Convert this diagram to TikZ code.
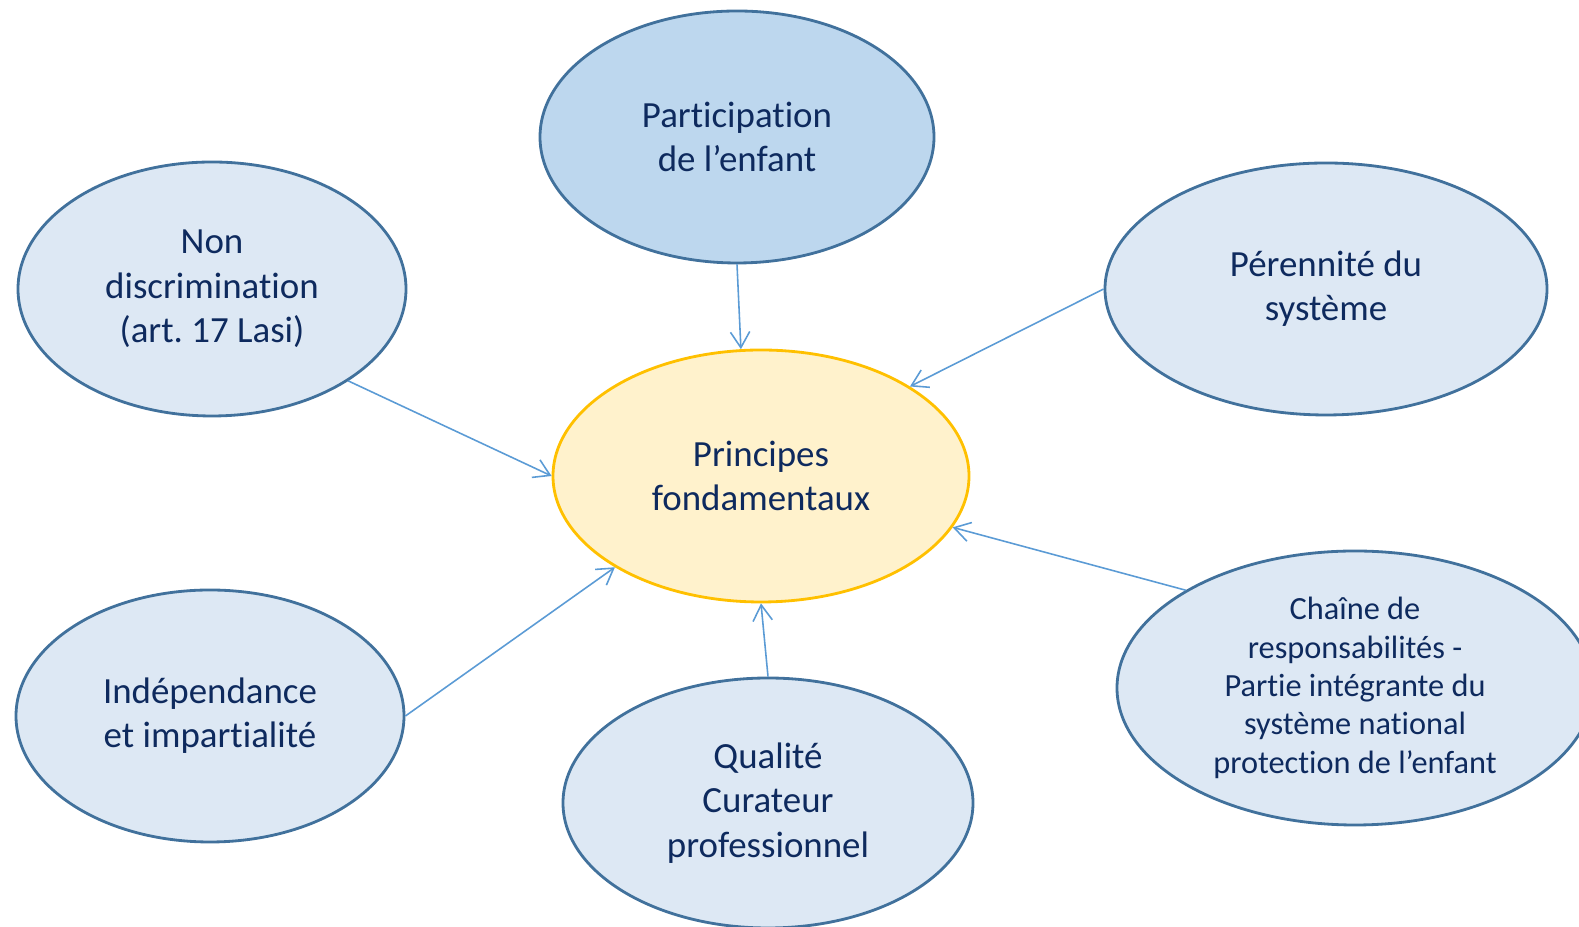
\documentclass[tikz,border=0pt]{standalone}
\usepackage{fontspec}
\setmainfont{Carlito}[Ligatures=NoCommon]
\usetikzlibrary{shapes.geometric,arrows.meta}
\definecolor{navytext}{HTML}{0E2A5E}
\definecolor{paleblue}{HTML}{DDE8F4}
\definecolor{midblue}{HTML}{BDD7EE}
\definecolor{edgeblue}{HTML}{41719C}
\definecolor{arrowblue}{HTML}{5B9BD5}
\definecolor{paleyellow}{HTML}{FFF2CC}
\definecolor{gold}{HTML}{FFC000}
\frenchspacing
\tikzset{
    principle/.style = {
        ellipse, draw=edgeblue, line width=0.8pt, fill=paleblue, inner sep=0,
        align=center, text=navytext, font=\fontsize{10.5}{12.6}\selectfont
    },
    feeds/.style = {
        draw=arrowblue, line width=0.45pt, -{Straight Barb[length=4.5pt,width=5.5pt]}
    }
}

\begin{document}
\begin{tikzpicture}
    \useasboundingbox (0,0) rectangle (15.79,9.27);
    \node[principle, fill=paleyellow, draw=gold, minimum width=4.16cm, minimum height=2.52cm] (princ) at (7.61,4.51) {Principes\\fondamentaux};
    \node[principle, fill=midblue, minimum width=3.94cm, minimum height=2.52cm] (part) at (7.37,7.90) {Participation\\de l’enfant};
    \node[principle, minimum width=3.88cm, minimum height=2.54cm] (nondis) at (2.12,6.38) {Non\\discrimination\\(art. 17 Lasi)};
    \node[principle, minimum width=4.42cm, minimum height=2.52cm] (peren) at (13.26,6.38) {Pérennité du\\système};
    \node[principle, minimum width=3.88cm, minimum height=2.52cm] (indep) at (2.10,2.11) {Indépendance\\et impartialité};
    \node[principle, minimum width=4.10cm, minimum height=2.50cm] (qual) at (7.68,1.24) {Qualité\\Curateur\\professionnel};
    \node[principle, minimum width=4.76cm, minimum height=2.74cm, font=\fontsize{9.2}{10.9}\selectfont] (chaine) at (13.55,2.39) {Chaîne de\\responsabilités -\\Partie intégrante du\\système national\\protection de l’enfant};

    \draw[feeds] (part.south) -- (princ.99);
    \draw[feeds] (nondis.-34) -- (princ.west);
    \draw[feeds] (peren.west) -- (princ.31);
    \draw[feeds] (indep.east) -- (princ.212);
    \draw[feeds] (qual.north) -- (princ.south);
    \draw[feeds] (chaine.150) -- (princ.-15);
\end{tikzpicture}
\end{document}
